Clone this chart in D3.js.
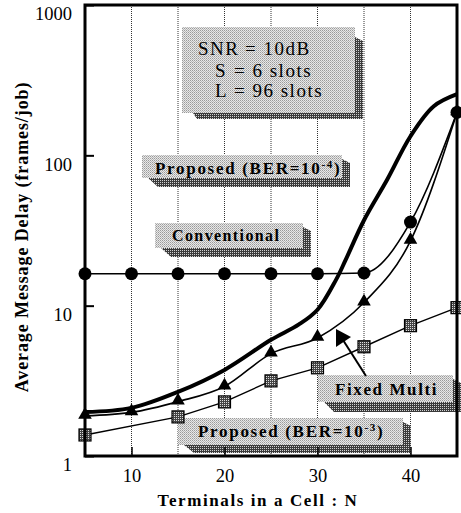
<!DOCTYPE html>
<html><head><meta charset="utf-8">
<script src="https://cdn.jsdelivr.net/npm/d3@7"></script>
<style>body{margin:0;background:#fff}svg{display:block}</style>
</head><body><svg id="c" width="461" height="513"></svg>
<script>
// ---- data ----
const N = [5, 10, 15, 20, 25, 30, 35, 40, 45];
const conventional = [16.3, 16.3, 16.3, 16.3, 16.3, 16.3, 16.5, 36, 193];
const fixedMulti = [1.85, 1.95, 2.3, 2.9, 4.8, 6.1, 10.5, 27, 193];
const ber3N = [5, 15, 20, 25, 30, 35, 40, 45];
const ber3 = [1.38, 1.82, 2.29, 3.16, 3.86, 5.33, 7.36, 9.7];
const ber4N = [5, 10, 15, 20, 25, 28, 30, 32, 33, 35, 37.5, 40, 42.5, 45];
const ber4 = [1.96, 2.09, 2.67, 3.74, 5.93, 7.5, 9.4, 14.9, 20, 37, 69, 134, 212, 255];
const yTicks = [1, 10, 100, 1000];
const xTicks = [10, 20, 30, 40];
const gridX = [10, 15, 20, 25, 30, 35, 40];
const paramLines = [["SNR", "= 10dB"], ["S", "= 6 slots"], ["L", "= 96 slots"]];

const svg = d3.select("#c");
const x = d3.scaleLinear([5, 45], [85, 457]);
const y = d3.scaleLog([1, 1000], [456, 5]);
const serif = "Liberation Serif, Times New Roman, serif";

// patterns
const defs = svg.append("defs");
const p1 = defs.append("pattern").attr("id", "light").attr("width", 2).attr("height", 2).attr("patternUnits", "userSpaceOnUse");
p1.append("rect").attr("width", 2).attr("height", 2).attr("fill", "#e8e8e8");
p1.append("rect").attr("width", 1).attr("height", 1).attr("fill", "#9a9a9a");
p1.append("rect").attr("x", 1).attr("y", 1).attr("width", 1).attr("height", 1).attr("fill", "#b8b8b8");
const p2 = defs.append("pattern").attr("id", "dark").attr("width", 2).attr("height", 2).attr("patternUnits", "userSpaceOnUse");
p2.append("rect").attr("width", 2).attr("height", 2).attr("fill", "#3a3a3a");
p2.append("rect").attr("width", 1).attr("height", 1).attr("fill", "#d0d0d0");
const p3 = defs.append("pattern").attr("id", "sq").attr("width", 2).attr("height", 2).attr("patternUnits", "userSpaceOnUse");
p3.append("rect").attr("width", 2).attr("height", 2).attr("fill", "#444");
p3.append("rect").attr("width", 1).attr("height", 1).attr("fill", "#ddd");

// gridlines
svg.append("g").selectAll("line").data(gridX).join("line")
  .attr("x1", d => x(d)).attr("x2", d => x(d)).attr("y1", y(1000)).attr("y2", y(1))
  .attr("stroke", "#333").attr("stroke-width", 1).attr("stroke-dasharray", "1,1");

// parameter box
const pb = svg.append("g");
pb.append("path").attr("d", "M193,113 L355,113 L355,37 L363,41 L363,119 L197,119 Z").attr("fill", "url(#dark)");
pb.append("rect").attr("x", 182).attr("y", 27).attr("width", 173).attr("height", 86).attr("fill", "url(#light)");
const pt = pb.append("g").attr("font-family", serif).attr("font-size", 19).attr("letter-spacing", 1.5).attr("fill", "#000");
const rowsY = [55, 77, 97];
const lx = [198, 215, 215], rx = [245, 234, 234];
paramLines.forEach((r, i) => {
  pt.append("text").attr("x", lx[i]).attr("y", rowsY[i]).text(r[0]);
  pt.append("text").attr("x", rx[i]).attr("y", rowsY[i]).text(r[1]);
});

// banner labels
function banner(x0, y0, w, h, sh, tx, ty, parts, fs, ls) {
  const g = svg.append("g");
  g.append("path").attr("d", `M${x0 + 6},${y0 + h} L${x0 + w},${y0 + h} L${x0 + w},${y0 + 4} L${x0 + w + 8},${y0 + 8} L${x0 + w + 8},${y0 + h + sh} L${x0 + 16},${y0 + h + sh} Z`).attr("fill", "url(#dark)");
  g.append("rect").attr("x", x0).attr("y", y0).attr("width", w).attr("height", h).attr("fill", "url(#light)");
  const t = g.append("text").attr("x", tx).attr("y", ty).attr("font-family", serif)
    .attr("font-weight", "bold").attr("font-size", fs).attr("letter-spacing", ls);
  parts.forEach(p => {
    const s = t.append("tspan").text(p.t);
    if (p.sup) s.attr("baseline-shift", "super").attr("font-size", fs * 0.65);
  });
}
banner(142, 155, 200, 23, 9, 155, 174, [{t: "Proposed (BER=10"}, {t: "-4", sup: true}, {t: ")"}], 17, 1.7);
banner(155, 223, 148, 25, 9, 172, 241, [{t: "Conventional"}], 16, 1.4);
banner(318, 375, 135, 27, 10, 335, 395, [{t: "Fixed Multi"}], 17, 1.6);
banner(178, 418, 225, 27, 8, 198, 437, [{t: "Proposed (BER=10"}, {t: "-3", sup: true}, {t: ")"}], 17, 1.7);

// arrow
svg.append("line").attr("x1", 366).attr("y1", 376).attr("x2", 343).attr("y2", 340).attr("stroke", "#000").attr("stroke-width", 2);
svg.append("path").attr("d", "M336,329 L336,347 L351,337 Z").attr("fill", "#000");

// lines
const lineC = d3.line().x(d => x(d[0])).y(d => y(d[1])).curve(d3.curveMonotoneX);
const lineL = d3.line().x(d => x(d[0])).y(d => y(d[1]));
const g = svg.append("g");
g.append("path").datum(N.map((n, i) => [n, conventional[i]])).attr("d", lineC).attr("fill", "none").attr("stroke", "#000").attr("stroke-width", 1.6);
g.append("path").datum(N.map((n, i) => [n, fixedMulti[i]])).attr("d", lineC).attr("fill", "none").attr("stroke", "#000").attr("stroke-width", 1.6);
g.append("path").datum(ber3N.map((n, i) => [n, ber3[i]])).attr("d", lineL).attr("fill", "none").attr("stroke", "#000").attr("stroke-width", 1.4);
g.append("path").datum(ber4N.map((n, i) => [n, ber4[i]])).attr("d", d3.line().x(d => x(d[0])).y(d => y(d[1])).curve(d3.curveCatmullRom)).attr("fill", "none").attr("stroke", "#000").attr("stroke-width", 4);

// markers
g.append("g").selectAll("circle").data(N.map((n, i) => [n, conventional[i]])).join("circle")
  .attr("cx", d => x(d[0])).attr("cy", d => y(d[1])).attr("r", 6.5).attr("fill", "#000");
const tri = d3.symbol().type(d3.symbolTriangle).size(80);
g.append("g").selectAll("path").data(N.map((n, i) => [n, fixedMulti[i]])).join("path")
  .attr("d", tri).attr("transform", d => `translate(${x(d[0])},${y(d[1]) - 1})`).attr("fill", "#000");
g.append("g").selectAll("rect").data(ber3N.map((n, i) => [n, ber3[i]])).join("rect")
  .attr("x", d => x(d[0]) - 6).attr("y", d => y(d[1]) - 6).attr("width", 12).attr("height", 12)
  .attr("fill", "url(#sq)").attr("stroke", "#000").attr("stroke-width", 1.2);

// axes
const ya = svg.append("g").attr("transform", `translate(${x(5)},0)`)
  .call(d3.axisLeft(y).tickValues(yTicks).tickFormat(d3.format("d")).tickSize(-9).tickPadding(13));
ya.select(".domain").remove();
ya.selectAll("line").attr("stroke-width", 2);
ya.selectAll("text").attr("dy", "0.32em").attr("transform", "translate(0,9)")
  .attr("font-family", serif).attr("font-size", 18.5).attr("fill", "#000");
const xa = svg.append("g").attr("transform", `translate(0,${y(1)})`)
  .call(d3.axisBottom(x).tickValues(xTicks).tickSize(-9).tickPadding(0));
xa.select(".domain").remove();
xa.selectAll("line").attr("stroke-width", 1.5);
xa.selectAll("text").attr("y", 26).attr("dy", 0)
  .attr("font-family", serif).attr("font-size", 18.5).attr("fill", "#000");

// frame
svg.append("rect").attr("x", x(5)).attr("y", y(1000)).attr("width", x(45) - x(5)).attr("height", y(1) - y(1000))
  .attr("fill", "none").attr("stroke", "#000").attr("stroke-width", 3);

// titles
svg.append("text").attr("x", 258).attr("y", 506).attr("text-anchor", "middle")
  .attr("font-family", serif).attr("font-weight", "bold").attr("font-size", 17).attr("letter-spacing", 1.6)
  .text("Terminals in a Cell : N");
svg.append("text").attr("transform", "translate(28,237) rotate(-90)").attr("text-anchor", "middle")
  .attr("font-family", serif).attr("font-weight", "bold").attr("font-size", 18).attr("letter-spacing", 0.9)
  .text("Average Message Delay (frames/job)");
</script></body></html>
